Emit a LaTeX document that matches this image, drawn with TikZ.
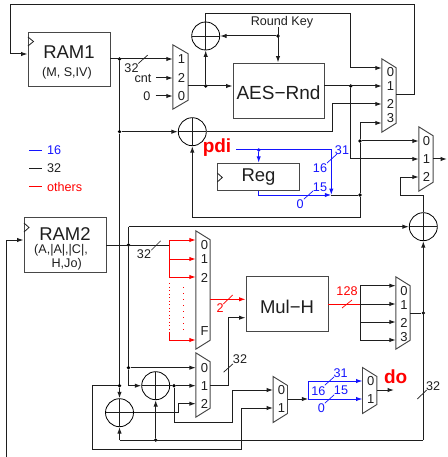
\documentclass[tikz,border=0pt]{standalone}
\usepackage{fontspec}
\setmainfont{Liberation Sans}
\usepackage{xcolor}
\usetikzlibrary{arrows.meta, calc}
\definecolor{sigB}{RGB}{20,20,255}
\definecolor{sigR}{RGB}{255,0,0}
\definecolor{sigK}{RGB}{30,30,30}
\tikzset{
  wire/.style={line width=1pt, sigK},
  wirea/.style={wire, -{Latex[length=6.5pt,width=4.4pt]}},
  bluea/.style={wirea, sigB},
  reda/.style={wirea, sigR},
  boxline/.style={draw=black!72, line width=0.95pt},
  regbox/.style={boxline, rectangle, inner sep=0pt},
  muxbody/.style={rectangle, inner sep=0pt},
  clocktip/.style={line width=0.8pt, sigK},
  busmark/.style={line width=0.7pt, sigK},
  reddots/.style={line width=1pt, draw=sigR, dash pattern=on 1pt off #1pt},
  junc/.style={circle, fill=#1, inner sep=0pt, minimum size=3.6pt},
  junc/.default=black,
  xorop/.style={circle, draw=black, line width=0.8pt, inner sep=0pt, minimum size=28pt,
    path picture={\draw[line width=0.8pt, sigK] (path picture bounding box.north) -- (path picture bounding box.south)
      (path picture bounding box.west) -- (path picture bounding box.east);}},
  small/.style={font=\fontsize{12.6}{14}\selectfont, inner sep=0pt, text=sigK},
  big/.style={font=\fontsize{18.5}{20}\selectfont, inner sep=0pt, text=sigK},
  muxnum/.style={small, font=\fontsize{13}{14}\selectfont},
  smallB/.style={small, text=sigB},
  smallR/.style={small, text=sigR},
  bigR/.style={font=\fontsize{19}{20}\selectfont\bfseries, inner sep=0pt, text=sigR}
}
\newcommand{\muxunit}[4]{%
  \node[muxbody, minimum width=#3pt, minimum height=#4pt] (#1) at (#2) {};
  \draw[boxline] (#1.north west) -- ([yshift=-9pt]#1.north east) -- ([yshift=9pt]#1.south east)
    -- (#1.south west) -- cycle;}
\newcommand{\muxports}[3]{%
  \foreach \p/\yy/\ly in {#3} {
    \coordinate (#1\p) at (#1.west |- 0,\yy);
    \node[muxnum] (#1\p t) at (#2,\ly) {\p};}}
\begin{document}
\begin{tikzpicture}[x=1pt, y=-1pt]
\useasboundingbox (0,0) rectangle (447,457);
% Boxes
\node[regbox, minimum width=82pt, minimum height=54pt] (ram1) at (69,59) {};
\node[big] (ram1t) at (69,52) {RAM1};
\node[small] (ram1s) at (67,73) {(M, S,IV)};
\node[regbox, minimum width=82pt, minimum height=54.5pt] (ram2) at (65,245) {};
\node[big] (ram2t) at (65,234) {RAM2};
\node[small] (ram2s) at (61,250.5) {(A,|A|,|C|,};
\node[small] (ram2u) at (66.7,264) {H,Jo)};
\node[regbox, minimum width=91pt, minimum height=55pt] (aes) at (278.5,90.5) {};
\node[big, font=\fontsize{19}{20}\selectfont] (aest) at (278.5,93) {AES−Rnd};
\node[regbox, minimum width=82.5pt, minimum height=27.5pt, big] (reg) at (258.5,177) {Reg};
\node[regbox, minimum width=82pt, minimum height=54.5pt] (mulh) at (287,304) {};
\node[big] (mulht) at (287,306.4) {Mul−H};
\draw[clocktip] (28,37) -- (33.5,41.5) -- (28,46);
\draw[clocktip] (24,223) -- (29,227.5) -- (24,232);
\draw[clocktip] (217.3,173) -- (222.3,177.5) -- (217.3,182);
% Multiplexers
\muxunit{mA}{180.5,77}{15}{64}
\muxports{mA}{181.5}{1/59/59, 2/78/78, 0/96/96}
\muxunit{mB}{389,95.5}{14}{73}
\muxports{mB}{390.5}{0/68/72, 1/86/86, 2/104/104, 3/123/118}
\muxunit{mC}{426,159}{14}{64}
\muxports{mC}{426.5}{0/141/141, 1/159/159, 2/177/177}
\muxunit{mD}{203,290}{14}{118}
\muxports{mD}{204.5}{0/240/245, 1/259/259, 2/277/277.5, F/340/331}
\muxunit{mE}{403,313}{14}{72}
\muxports{mE}{404}{0/285.7/291, 1/304/305, 2/322/323, 3/340/337}
\muxunit{mF}{203,385}{14}{64}
\muxports{mF}{204.5}{0/367.7/367.7, 1/385.7/385.7, 2/403.7/403.7}
\muxunit{mG}{280.3,399.5}{14}{45.6}
\muxports{mG}{281.5}{0/390/390, 1/408/408}
\muxunit{mH}{369.7,390.5}{14}{45.6}
\muxports{mH}{370.7}{0/381/381, 1/399/399}
% XOR operators
\node[xorop] (xorT) at (205.7,36) {};
\node[xorop] (xorP) at (192.3,131.7) {};
\node[xorop] (xorR) at (423.3,226.7) {};
\node[xorop] (xorF) at (155.7,385.7) {};
\node[xorop] (xorL) at (119.5,412.7) {};
% Junctions
\node[junc] (jram1) at (119.5,59) {};
\node[junc] (jxorP) at (119.5,131.7) {};
\node[junc] (jmuxA) at (205.7,86) {};
\node[junc] (jkey) at (278,36) {};
\node[junc] (jaes) at (350.7,86) {};
\node[junc] (jC0) at (360,141) {};
\node[junc] (jreg) at (360,195) {};
\node[junc, fill=sigB] (jpdi) at (258.7,150) {};
\node[junc] (jram2) at (128.5,245) {};
\node[junc] (jF0) at (128.5,367.7) {};
\node[junc] (jL) at (119.5,385.7) {};
\node[junc] (jF) at (174,385.7) {};
\node[junc] (jbot) at (155.7,440) {};
\node[junc] (jE) at (423.3,313) {};
% Top part
\draw[wirea] (mB.east |- 0,95) -- (414,95) -- (414,4.7) -- (10,4.7) -- (10,54) -- (ram1.west |- 0,54);
\draw[wirea] (ram1.east |- mA1) -- (mA1);
\draw[wire] (jram1) -- (jxorP);
\draw[wirea] (jxorP) -- (xorP.west);
\draw[wire] (jxorP) -- (jL);
\node[small] (lcnt) at (143,78.5) {cnt};
\node[small] (lzero) at (147,96) {0};
\draw[wirea] (156,78) -- (mA2);
\draw[wirea] (lzero.east) ++(5,0) -- (mA0);
\draw[wirea] (mA.east |- jmuxA) -- (aes.west |- jmuxA);
\draw[wirea] (jmuxA) -- (xorT.south);
\node[small] (lkey) at (282,22) {Round Key};
\draw[wirea] (278,27.5) -- (aes.north -| jkey);
\draw[wirea] (jkey) -- (xorT.east);
\draw[wirea] (xorT.north) -- (205.7,13.5) -- (350.7,13.5) -- (350.7,68) -- (mB0);
\draw[wirea] (aes.east |- mB1) -- (mB1);
\draw[wirea] (jaes) -- (350.7,159) -- (mC1);
\draw[wirea] (xorP.east) -- (332,131.7) -- (332,104) -- (mB2);
\draw[wirea] (jC0) -- (360,123) -- (mB3);
\draw[wirea] (jC0) -- (mC0);
\draw[wire] (jC0) -- (jreg);
\draw[wirea] (jreg) -- (360,217.7) -- (192.3,217.7) -- (xorP.south);
\draw[wirea] (xorR.north) -- (423.3,195) -- (400.7,195) -- (400.7,177) -- (mC2);
\draw[wirea] (mC.east |- mC1) -- (447,159);
% pdi and Reg
\node[bigR] (lpdi) at (217,148) {pdi};
\draw[bluea] (236,150) -- (331.3,150) -- (331.3,195);
\draw[bluea] (jpdi) -- (reg.north -| jpdi);
\draw[bluea] (reg.south -| jpdi) -- (258.7,195) -- (331.3,195);
\draw[wire] (331.3,195) -- (jreg);
\draw[busmark, sigB] (332,158.5) +(-5,4.5) -- +(5,-4.5);
\draw[busmark, sigB] (308.5,195) +(-4.7,4.2) -- +(4.7,-4.2);
\node[smallB] (l31a) at (342,150) {31};
\node[smallB] (l16a) at (320,168) {16};
\node[smallB] (l15a) at (320,187) {15};
\node[smallB] (l0a) at (300,204) {0};
% Legend
\foreach \nm/\yy/\cc/\txt in {lgB/150/sigB/16, lgK/168.3/sigK/32, lgR/186.5/sigR/others}
  {\node[small, text=\cc, anchor=west] (\nm) at (47,\yy) {\txt};
   \draw[line width=0.9pt, \cc] (29,\yy) -- (42,\yy);}
% RAM2 and red selector
\draw[wirea] (6,457) -- (6,240) -- (ram2.west |- 0,240);
\draw[wire] (ram2.east |- jram2) -- (169.3,245);
\draw[busmark] (156,245.5) +(-4.7,4.7) -- +(4.7,-4.7);
\node[small] (l32b) at (144,254) {32};
\draw[wire, sigR] (169.3,240) -- (169.3,277);
\foreach \p in {0,1,2}
  \draw[reda] (169.3,0 |- mD\p) -- (mD\p);
\draw[reddots=2.5] (169.3,283) -- (169.3,332);
\draw[reddots=5] (183,287) -- (183,332);
\draw[reda] (169.3,332) -- (169.3,340) -- (mDF);
\draw[reda] (mD.east |- 0,299.3) -- (mulh.west |- 0,299.3);
\draw[busmark, sigR] (228,299.5) +(-4.7,4.5) -- +(4.7,-4.5);
\node[smallR] (l2) at (220,308) {2};
% Mul-H to output selector
\draw[wire, sigR] (mulh.east |- mE1) -- (360,304);
\draw[busmark, sigR] (347,304) +(-5,4) -- +(5,-4);
\node[smallR] (l128) at (347,290.7) {128};
\draw[wire] (360,285.7) -- (360,340);
\foreach \p in {0,1,2,3}
  \draw[wirea] (360,0 |- mE\p) -- (mE\p);
\draw[wire] (mE.east |- jE) -- (jE);
\draw[wirea] (423.3,440) -- (xorR.south);
\draw[busmark] (422,394.5) +(-4.7,4.5) -- +(4.7,-4.5);
\node[small] (l32c) at (433,386) {32};
\draw[wirea] (128.5,226.7) -- (xorR.west);
\draw[wire] (128.5,226.7) -- (jram2);
\draw[wire] (jram2) -- (jF0);
\draw[wire] (jF0) -- (128.5,385.7);
\draw[wirea] (128.5,385.7) -- (xorF.west);
\draw[wirea] (jF0) -- (mF0);
% Lower XORs
\draw[wire] (xorF.east) -- (jF);
\draw[wirea] (jF) -- (mF1);
\draw[wirea] (jF) -- (174,422) -- (232.3,422) -- (232.3,390) -- (mG0);
\draw[wirea] (jL) -- (xorL.north);
\draw[wire] (jL) -- (92,385.7) -- (92,449) -- (241.3,449) -- (241.3,408);
\draw[wirea] (241.3,408) -- (mG1);
\draw[wirea] (xorL.east) -- (178.3,412.7) -- (178.3,403.7) -- (mF2);
\draw[wirea] (119.5,440) -- (xorL.south);
\draw[wire] (119.5,440) -- (423.3,440);
\draw[wirea] (jbot) -- (xorF.south);
\draw[wirea] (mF.east |- mF1) -- (228.3,385.7) -- (228.3,317.7) -- (mulh.west |- 0,317.7);
\draw[busmark] (228.3,368) +(-4.7,4.2) -- +(4.7,-4.2);
\node[small] (l32d) at (240,358.7) {32};
% Output do
\draw[wirea] (mG.east |- 0,399) -- (308.3,399);
\draw[bluea] (308.3,399) -- (mH1);
\draw[bluea] (308.3,399) -- (308.3,381) -- (mH0);
\draw[busmark, sigB] (329.5,381) +(-4.7,4.2) -- +(4.7,-4.2);
\draw[busmark, sigB] (329.5,399) +(-4.7,4.2) -- +(4.7,-4.2);
\node[smallB] (l31b) at (340.7,372.7) {31};
\node[smallB] (l16b) at (318.3,390.7) {16};
\node[smallB] (l15b) at (341,390.7) {15};
\node[smallB] (l0b) at (321.3,408) {0};
\draw[wirea] (mH.east |- 0,390) -- (394,390);
\node[bigR] (ldo) at (395.7,377) {do};
% Width labels at RAM1
\draw[busmark] (143,59.3) +(-4.7,4.2) -- +(4.7,-4.2);
\node[small] (l32a) at (131.5,68.5) {32};
\end{tikzpicture}
\end{document}
